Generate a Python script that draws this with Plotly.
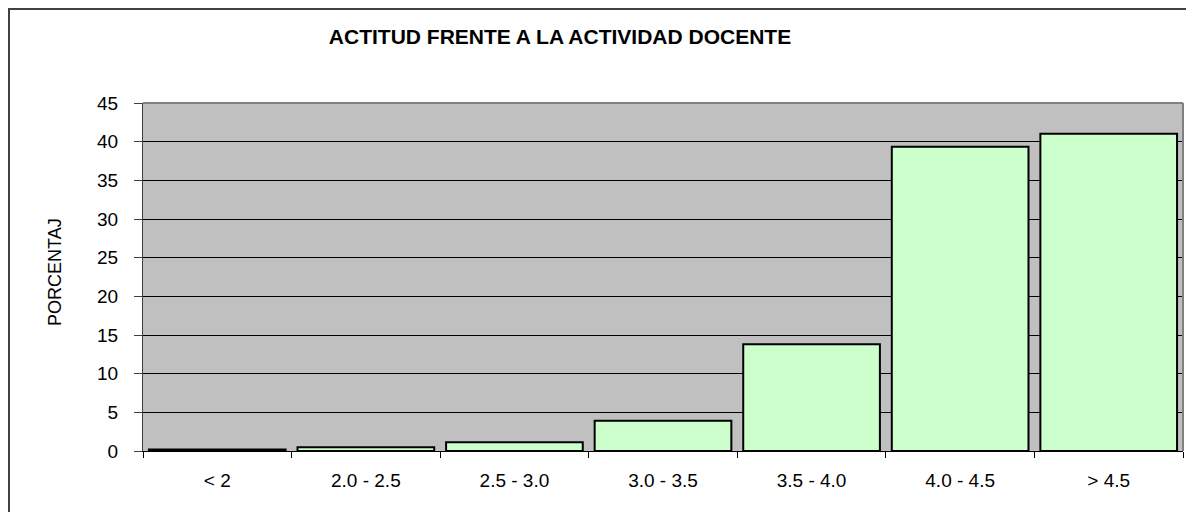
import plotly.graph_objects as go

categories = ["< 2", "2.0 - 2.5", "2.5 - 3.0", "3.0 - 3.5", "3.5 - 4.0", "4.0 - 4.5", "> 4.5"]
values = [0.2, 0.48, 1.12, 3.92, 13.8, 39.35, 41.03]
y_ticks = [0, 5, 10, 15, 20, 25, 30, 35, 40, 45]

title_text = "ACTITUD FRENTE A LA ACTIVIDAD DOCENTE"
y_title = "PORCENTAJ"

OFF = 8  # page body margin
W, H = 1194 - OFF, 512 - OFF
L, T = 143 - OFF, 103 - OFF
R = W - (1183 - OFF)
B = H - (451 - OFF)
pw, ph = W - L - R, H - T - B

def px_x(p):
    return (p - OFF - L) / pw

def px_y(p):
    return (H - B - (p - OFF)) / ph

fig = go.Figure(
    go.Bar(
        x=categories,
        y=values,
        marker=dict(color="#CCFFCC", line=dict(color="black", width=2)),
    )
)

fig.update_layout(
    width=W,
    height=H,
    margin=dict(l=L, r=R, t=T, b=B),
    paper_bgcolor="white",
    plot_bgcolor="#C0C0C0",
    bargap=0.08,
    showlegend=False,
    font=dict(family="Liberation Sans, Arial, sans-serif", color="black"),
    title=dict(
        text="<b>" + title_text + "</b>",
        x=(560 - OFF) / W,
        xanchor="center",
        y=1 - (37 - OFF) / H,
        yanchor="middle",
        font=dict(size=21, color="black"),
    ),
)

fig.update_xaxes(
    type="category",
    tickson="boundaries",
    ticks="outside",
    ticklen=6,
    tickcolor="black",
    showgrid=False,
    showline=True,
    linecolor="black",
    linewidth=1,
    tickfont=dict(size=19),
    ticklabelstandoff=12,
)

fig.update_yaxes(
    range=[0, 45],
    tickvals=y_ticks,
    ticks="outside",
    ticklen=8,
    tickcolor="#404040",
    showgrid=True,
    gridcolor="black",
    gridwidth=1,
    showline=True,
    linecolor="#404040",
    linewidth=1,
    zeroline=False,
    tickfont=dict(size=19),
    ticklabelstandoff=12,
)

# plot area top and right edges (gray)
fig.add_shape(type="line", xref="paper", yref="paper", x0=0, x1=1, y0=1, y1=1,
              line=dict(color="#808080", width=2))
fig.add_shape(type="line", xref="paper", yref="paper", x0=1, x1=1, y0=0, y1=1,
              line=dict(color="#808080", width=2))

# outer chart frame
fig.add_shape(type="rect", xref="paper", yref="paper",
              x0=px_x(9), x1=px_x(1192), y0=px_y(530), y1=px_y(9),
              line=dict(color="#404040", width=2), fillcolor="rgba(0,0,0,0)", layer="above")

fig.add_annotation(
    text=y_title,
    xref="paper", yref="paper",
    x=px_x(55), y=px_y(272),
    xanchor="center", yanchor="middle",
    textangle=-90,
    showarrow=False,
    font=dict(size=18, color="black"),
)

fig.write_html("out.html")
